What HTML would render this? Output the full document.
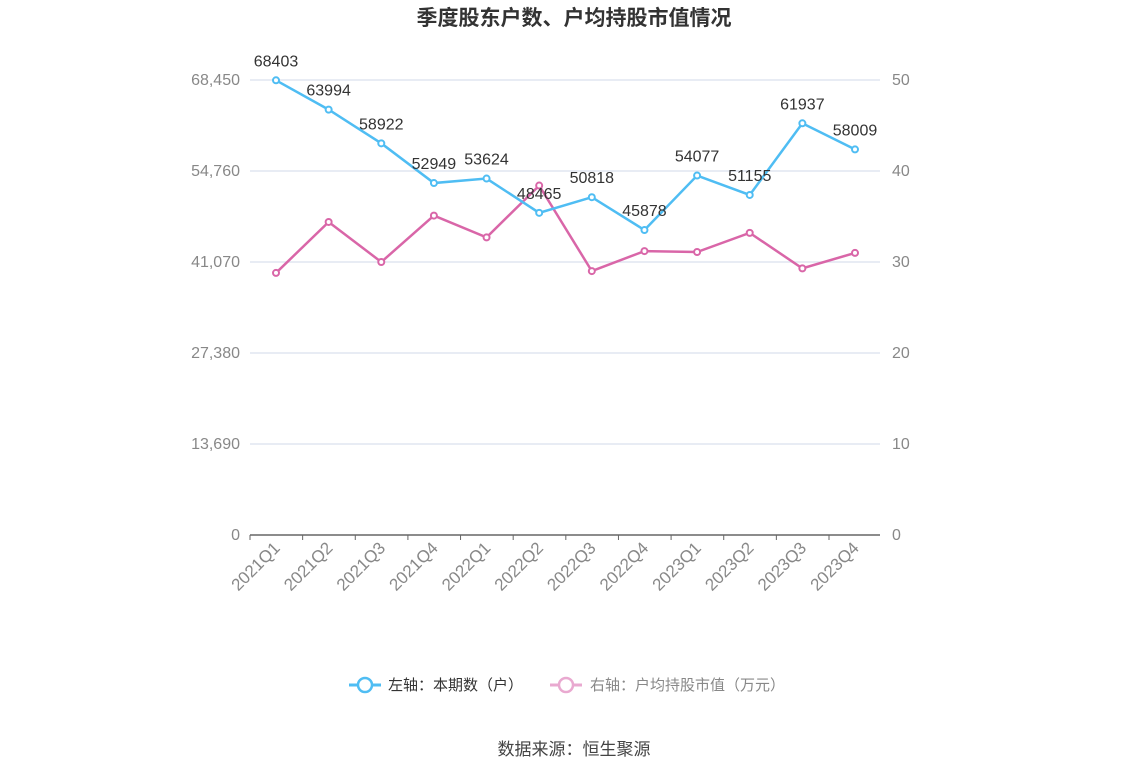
<!DOCTYPE html>
<html><head><meta charset="utf-8"><style>
body{margin:0;background:#fff;font-family:"Liberation Sans","Noto Sans CJK SC",sans-serif;}
svg text{font-family:"Liberation Sans","Noto Sans CJK SC",sans-serif;}
</style></head><body>
<svg id="c" width="1148" height="776">
<text x="574" y="25" text-anchor="middle" font-size="21" font-weight="bold" fill="#333">季度股东户数、户均持股市值情况</text>
<g id="grid"></g><g id="marks"></g>
<g>
<g><line x1="349" y1="685" x2="381" y2="685" stroke="#4fbdf3" stroke-width="3"/><circle cx="365" cy="685" r="7" fill="#fff" stroke="#4fbdf3" stroke-width="2.5"/><text x="388" y="690" font-size="15" fill="#333">左轴：本期数（户）</text></g>
<g><line x1="550" y1="685" x2="582" y2="685" stroke="#e9a9d0" stroke-width="3"/><circle cx="566" cy="685" r="7" fill="#fff" stroke="#e9a9d0" stroke-width="2.5"/><text x="590" y="690" font-size="15" fill="#888">右轴：户均持股市值（万元）</text></g>
</g>
<text x="574" y="755" text-anchor="middle" font-size="17" fill="#444">数据来源：恒生聚源</text>
</svg>
<script>
const categories=["2021Q1","2021Q2","2021Q3","2021Q4","2022Q1","2022Q2","2022Q3","2022Q4","2023Q1","2023Q2","2023Q3","2023Q4"];
const households=[68403,63994,58922,52949,53624,48465,50818,45878,54077,51155,61937,58009];
const avgValue=[28.8,34.4,30.0,35.1,32.7,38.4,29.0,31.2,31.1,33.2,29.3,31.0];
const leftTicks=[0,13690,27380,41070,54760,68450];
const rightTicks=[0,10,20,30,40,50];
const NS="http://www.w3.org/2000/svg";
const y0=535,yTop=80,x0=276,x1=855;
const yL=v=>y0-(v/68450)*(y0-yTop);
const yR=v=>y0-(v/50)*(y0-yTop);
const xS=i=>x0+i*(x1-x0)/(categories.length-1);
function mk(t,a,p){const e=document.createElementNS(NS,t);for(const k in a)e.setAttribute(k,a[k]);p.appendChild(e);return e;}
const g=document.getElementById('grid'),m=document.getElementById('marks');
leftTicks.forEach((v,i)=>{const y=yL(v);
 if(i>0){const l=mk('line',{x1:250,x2:880,y1:y,y2:y,stroke:'#e0e6f1','stroke-width':1.5},g);
 
 }
 const t=mk('text',{x:240,y:y+5,'text-anchor':'end','font-size':16,fill:'#888'},g);t.textContent=v.toLocaleString('en-US');
 
 
 const r=mk('text',{x:892,y:yR(rightTicks[i])+5,'font-size':16,fill:'#888'},g);r.textContent=rightTicks[i];
 
 
});
const ax=mk('line',{x1:250,x2:880,y1:y0,y2:y0,stroke:'#666','stroke-width':1.5},g);


categories.forEach((c,i)=>{const x=xS(i);
 mk('line',{x1:x-26,x2:x-26,y1:y0,y2:y0+5,stroke:'#666'},g);
 const t=mk('text',{x:x+5,y:y0+14,'text-anchor':'end','font-size':17,fill:'#888',transform:`rotate(-45 ${x+5} ${y0+14})`},g);t.textContent=c;
 
 
});
function series(vals,ys,col,name,labels){
 const pl=mk('polyline',{points:vals.map((v,i)=>xS(i)+','+ys(v)).join(' '),fill:'none',stroke:col,'stroke-width':2.5},m);
 
 
 vals.forEach((v,i)=>{const c=mk('circle',{cx:xS(i),cy:ys(v),r:3,fill:'#fff',stroke:col,'stroke-width':2},m);
  
  
  if(labels){const t=mk('text',{x:xS(i),y:ys(v)-14,'text-anchor':'middle','font-size':16,fill:'#333'},m);t.textContent=v;
  
  }
 });
}
series(avgValue,yR,'#d966a8','avg-value',false);
series(households,yL,'#4fbdf3','households',true);
</script>
</body></html>
